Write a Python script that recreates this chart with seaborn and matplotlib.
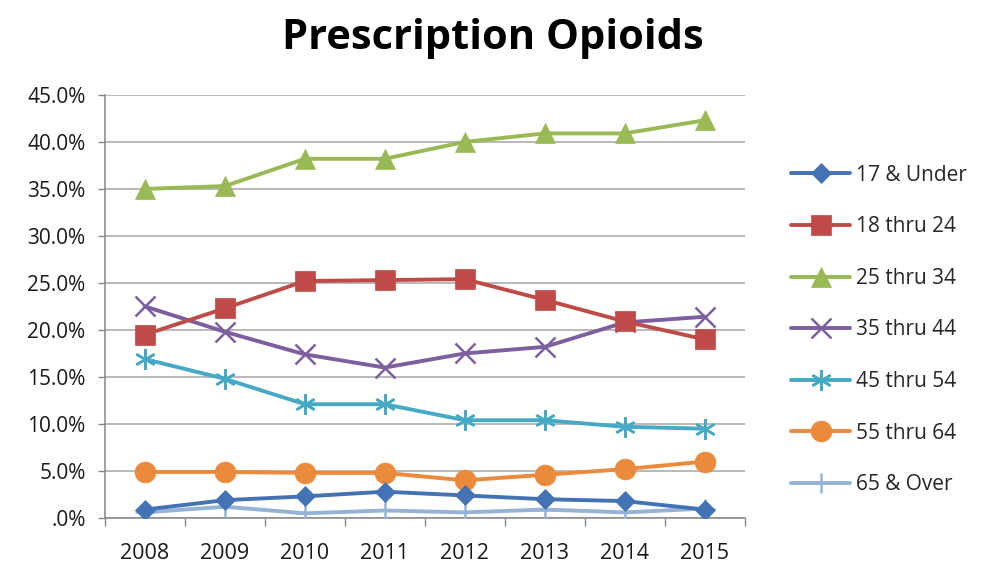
import matplotlib
matplotlib.use("Agg")
import matplotlib.pyplot as plt
import seaborn as sns
import pandas as pd
import numpy as np

years = ["2008", "2009", "2010", "2011", "2012", "2013", "2014", "2015"]
groups = ["17 & Under", "18 thru 24", "25 thru 34", "35 thru 44",
          "45 thru 54", "55 thru 64", "65 & Over"]
under_17 = [0.9, 1.9, 2.3, 2.8, 2.4, 2.0, 1.8, 0.9]
age_18_24 = [19.5, 22.3, 25.2, 25.3, 25.4, 23.2, 20.9, 19.0]
age_25_34 = [35.0, 35.3, 38.2, 38.2, 40.0, 40.9, 40.9, 42.3]
age_35_44 = [22.5, 19.8, 17.4, 16.0, 17.5, 18.2, 20.8, 21.4]
age_45_54 = [16.9, 14.8, 12.1, 12.1, 10.4, 10.4, 9.7, 9.5]
age_55_64 = [4.9, 4.9, 4.8, 4.8, 4.0, 4.6, 5.2, 6.0]
over_65 = [0.6, 1.2, 0.5, 0.8, 0.6, 0.9, 0.6, 1.0]
yticks = [0, 5, 10, 15, 20, 25, 30, 35, 40, 45]
ytick_labels = [".0%", "5.0%", "10.0%", "15.0%", "20.0%", "25.0%",
                "30.0%", "35.0%", "40.0%", "45.0%"]

series = [under_17, age_18_24, age_25_34, age_35_44, age_45_54, age_55_64, over_65]
colors = ["#4373B3", "#BE4B48", "#98B954", "#7D5FA0", "#46AAC5", "#EC8A3C", "#95B3D7"]
markers = ["D", "s", "^", "x", (6, 2, 0), "o", "+"]
msizes = [10, 15, 15, 14, 15, 15, 14]

rows = []
for g, vals in zip(groups, series):
    for i, (y, v) in enumerate(zip(years, vals)):
        rows.append({"pos": i, "year": y, "group": g, "value": v})
df = pd.DataFrame(rows)

sns.set_theme(style="white")
plt.rcParams["font.family"] = ["Open Sans", "DejaVu Sans"]

fig = plt.figure(figsize=(9.85, 5.68), dpi=100)
ax = fig.add_axes([0.1066, 0.088, 0.6494, 0.745])

for i, g in enumerate(groups):
    sub = df[df["group"] == g]
    thin = markers[i] in ("x", "+") or isinstance(markers[i], tuple)
    sns.lineplot(data=sub, x="pos", y="value", ax=ax, color=colors[i],
                 linewidth=2.8, marker=markers[i], markersize=msizes[i],
                 markeredgecolor=colors[i], markeredgewidth=1.8 if thin else 0.5,
                 label=g, zorder=3 + (7 - i) * 0.01)

ax.set_xlim(-0.5, 7.5)
ax.set_ylim(0, 45)
ax.set_yticks(yticks)
ax.set_yticklabels(ytick_labels)
ax.set_xticks(range(len(years)))
ax.set_xticklabels(years)
ax.set_xticks(np.arange(-0.5, 8, 1), minor=True)
ax.tick_params(axis="x", which="major", length=0, labelsize=15.5, pad=18, colors="#000000")
ax.tick_params(axis="x", which="minor", length=6, width=1, color="#868686", direction="out", bottom=True)
ax.tick_params(axis="y", length=5, width=1, color="#868686", direction="out", left=True, labelsize=15, pad=9)
for t in ax.get_yticklabels() + ax.get_xticklabels():
    t.set_color("#1a1a1a")
ax.grid(axis="y", color="#A6A6A6", linewidth=1.1)
ax.set_axisbelow(True)
for s in ["top", "right"]:
    ax.spines[s].set_visible(False)
for s in ["left", "bottom"]:
    ax.spines[s].set_color("#868686")
    ax.spines[s].set_linewidth(1.1)
ax.set_xlabel("")
ax.set_ylabel("")

fig.text(0.5, 0.932, "Prescription Opioids", ha="center", va="center",
         fontsize=30, fontweight="bold", color="#000000")

handles, labels = ax.get_legend_handles_labels()
ax.legend(handles, labels, loc="upper left", bbox_to_anchor=(1.06, 0.855),
          frameon=False, fontsize=15, handlelength=2.8, handletextpad=0.3,
          labelspacing=1.47, borderaxespad=0)

fig.savefig("out.png", dpi=100, facecolor="white")
